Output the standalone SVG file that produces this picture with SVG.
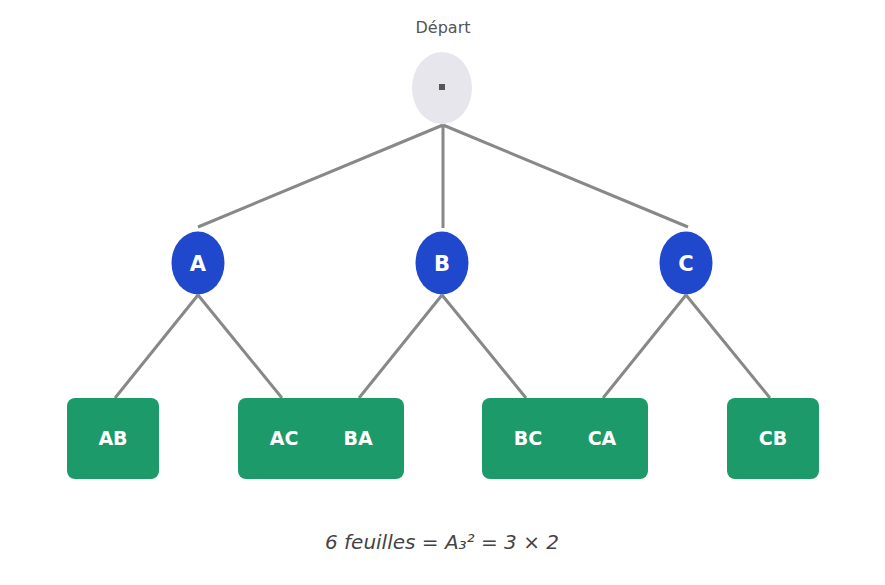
<svg xmlns="http://www.w3.org/2000/svg" width="885" height="585" viewBox="0 0 885 585">
<style>
text{font-family:"DejaVu Sans",sans-serif}
.e{stroke:#888;stroke-width:3;fill:none}
.c{fill:#1f48cc}
.b{fill:#1c9a6a}
.cl{fill:#fff;font-weight:bold;font-size:21px;text-anchor:middle}
.bl{fill:#fff;font-weight:bold;font-size:19px;text-anchor:middle}
</style>
<rect width="885" height="585" fill="#fff"/>
<g id="connectors">
<path class="e" d="M443 125L198 227M443 125V228M443 125L688 227M198 295L115 398M198 295L282 398M442 295L359 398M442 295L526 398M686 295L603 398M686 295L770 398"/>
</g>
<g id="root"><text x="443" y="33" font-size="16" fill="#555" text-anchor="middle">Départ</text>
<ellipse cx="442" cy="88" rx="30" ry="36" fill="#e6e6ec"/><rect x="439" y="84" width="6" height="6" fill="#555"/></g>
<g id="A"><ellipse class="c" cx="198" cy="263" rx="26.5" ry="31.5"/><text class="cl" x="198" y="271">A</text></g>
<g id="B"><ellipse class="c" cx="442" cy="263" rx="26.5" ry="31.5"/><text class="cl" x="442" y="271">B</text></g>
<g id="C"><ellipse class="c" cx="686" cy="263" rx="26.5" ry="31.5"/><text class="cl" x="686" y="271">C</text></g>
<g id="AB"><rect class="b" x="67" y="398" width="92" height="81" rx="8"/><text class="bl" x="113" y="445">AB</text></g>
<g id="AC"><rect class="b" x="238" y="398" width="92" height="81" rx="8"/><text class="bl" x="284" y="445">AC</text></g>
<g id="BA"><rect class="b" x="312" y="398" width="92" height="81" rx="8"/><text class="bl" x="358" y="445">BA</text></g>
<g id="BC"><rect class="b" x="482" y="398" width="92" height="81" rx="8"/><text class="bl" x="528" y="445">BC</text></g>
<g id="CA"><rect class="b" x="556" y="398" width="92" height="81" rx="8"/><text class="bl" x="602" y="445">CA</text></g>
<g id="CB"><rect class="b" x="727" y="398" width="92" height="81" rx="8"/><text class="bl" x="773" y="445">CB</text></g>
<text x="442" y="549" font-size="20" font-style="italic" fill="#444" text-anchor="middle">6 feuilles = A₃² = 3 × 2</text>
</svg>
